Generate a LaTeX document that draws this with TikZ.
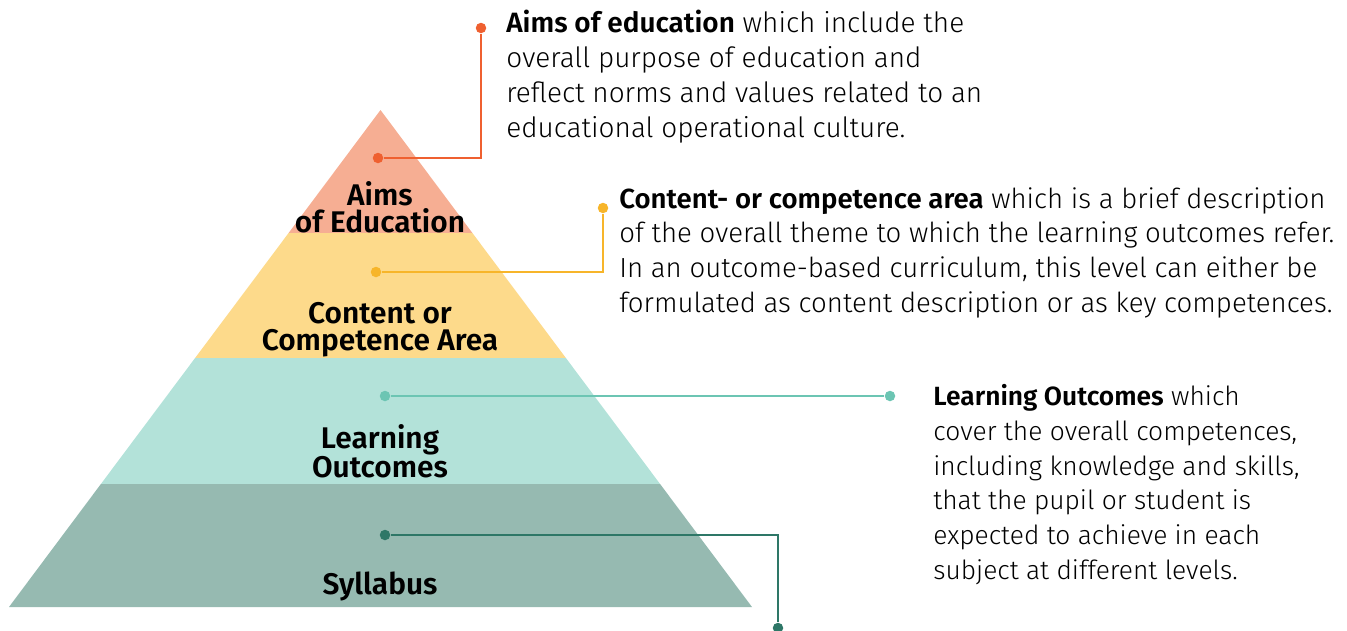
\documentclass[tikz,border=0pt]{standalone}
\usepackage{fontspec}
\setmainfont{Fira Sans}[UprightFont=* Light, BoldFont=* SemiBold]
\newfontfamily\labelfont{Fira Sans SemiBold}

\definecolor{aimsfill}{HTML}{F6AE93}
\definecolor{aimsline}{HTML}{EF6030}
\definecolor{areafill}{HTML}{FDDA8B}
\definecolor{arealine}{HTML}{F7B52A}
\definecolor{outfill}{HTML}{B3E2D9}
\definecolor{outline}{HTML}{6CC5B3}
\definecolor{sylfill}{HTML}{96BAB1}
\definecolor{sylline}{HTML}{2E7767}

\tikzset{
  level/.style={align=center, font=\labelfont\fontsize{17}{15.4}\selectfont, inner sep=0pt},
  desc/.style={align=left, anchor=north west, inner sep=0pt, font=\fontsize{#1}{19.8}\selectfont},
  desc/.default=15.9,
  dot/.style={circle, fill=#1, inner sep=0pt, minimum size=0.21cm},
  link/.style={draw=#1, line width=1.2pt}
}

\begin{document}
\begin{tikzpicture}[x=0.02cm,y=-0.02cm]
        \useasboundingbox (0,0) rectangle (1347,630);
        % pyramid bands, top to bottom
        \fill[aimsfill] (380.5,110)--(472.4,233)--(288.6,233)--cycle;
        \fill[areafill] (288.6,233)--(472.4,233)--(565.9,358)--(195.1,358)--cycle;
        \fill[outfill] (195.1,358)--(565.9,358)--(660.1,484)--(100.9,484)--cycle;
        \fill[sylfill] (100.9,484)--(660.1,484)--(752,607)--(9,607)--cycle;
        % band labels
        \node[level] (aims) at (380,207) {Aims\\of Education};
        \node[level] (area) at (380,330) {Content or\\Competence Area};
        \node[level] (outcomes) at (380,451) {Learning\\Outcomes};
        \node[level] (syllabus) at (380,586) {Syllabus};
        % dots
        \node[dot=aimsline] (aimsIn) at (378,158) {};
        \node[dot=aimsline] (aimsOut) at (481,28) {};
        \node[dot=arealine] (areaIn) at (376,272) {};
        \node[dot=arealine] (areaOut) at (603,208) {};
        \node[dot=outline] (outIn) at (385,396) {};
        \node[dot=outline] (outOut) at (890,396) {};
        \node[dot=sylline] (sylIn) at (385,535) {};
        \node[dot=sylline] (sylOut) at (778,628) {};
        % connectors
        \draw[link=aimsline] (aimsIn) -| (aimsOut);
        \draw[link=arealine] (areaIn) -| (areaOut);
        \draw[link=outline] (outIn) -- (outOut);
        \draw[link=sylline] (sylIn) -| (sylOut);
        % descriptions
        \node[desc] (aimsText) at (506,10) {\textbf{Aims of education} which include the\\overall purpose of education and\\reflect norms and values related to an\\educational operational culture.};
        \node[desc=15.7] (areaText) at (619,187) {\textbf{Content- or competence area} which is a brief description\\of the overall theme to which the learning outcomes refer.\\In an outcome-based curriculum, this level can either be\\formulated as content description or as key competences.};
        \node[desc=15.0] (outText) at (933,384) {\textbf{Learning Outcomes} which\\cover the overall competences,\\including knowledge and skills,\\that the pupil or student is\\expected to achieve in each\\subject at different levels.};
    \end{tikzpicture}
\end{document}
